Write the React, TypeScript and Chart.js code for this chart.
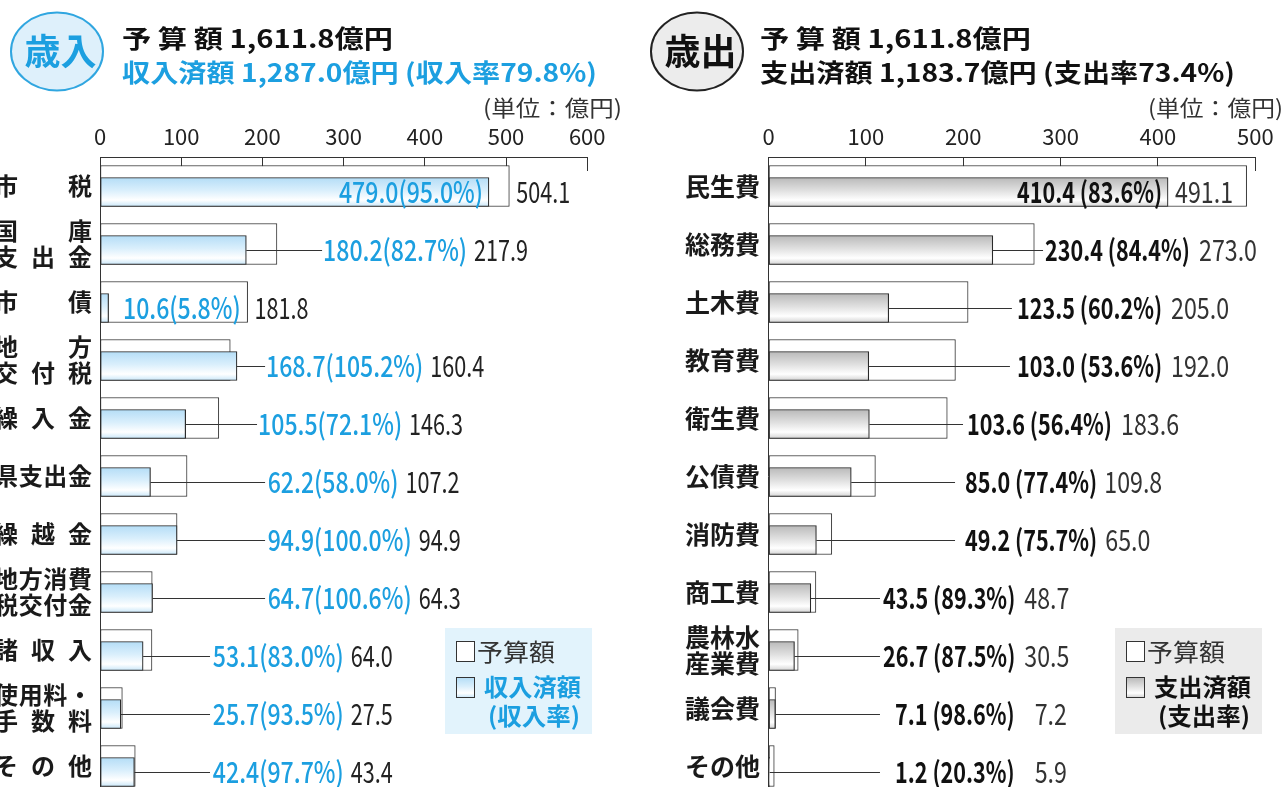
import React, { useEffect, useRef } from "react";
import { Chart, registerables } from "chart.js";

Chart.register(...registerables);

const FONT = "'Noto Sans CJK JP', 'Noto Sans', sans-serif";
Chart.defaults.font.family = FONT;

// ---------- 歳入 (revenue) ----------
const revenueCategories: string[][] = [
  ["市税"], ["国庫", "支出金"], ["市債"], ["地方", "交付税"], ["繰入金"], ["県支出金"],
  ["繰越金"], ["地方消費", "税交付金"], ["諸収入"], ["使用料・", "手数料"], ["その他"],
];
const revenueBudget = [504.1, 217.9, 181.8, 160.4, 146.3, 107.2, 94.9, 64.3, 64.0, 27.5, 43.4];
const revenueActual = [479.0, 180.2, 10.6, 168.7, 105.5, 62.2, 94.9, 64.7, 53.1, 25.7, 42.4];
const revenueRate = [95.0, 82.7, 5.8, 105.2, 72.1, 58.0, 100.0, 100.6, 83.0, 93.5, 97.7];
const revenueTicks = [0, 100, 200, 300, 400, 500, 600];
const revenueTitle = ["予 算 額 1,611.8億円", "収入済額 1,287.0億円 (収入率79.8%)"];
const revenueLegend = ["予算額", "収入済額", "(収入率)"];

// ---------- 歳出 (expenditure) ----------
const expenditureCategories: string[][] = [
  ["民生費"], ["総務費"], ["土木費"], ["教育費"], ["衛生費"], ["公債費"],
  ["消防費"], ["商工費"], ["農林水", "産業費"], ["議会費"], ["その他"],
];
const expenditureBudget = [491.1, 273.0, 205.0, 192.0, 183.6, 109.8, 65.0, 48.7, 30.5, 7.2, 5.9];
const expenditureActual = [410.4, 230.4, 123.5, 103.0, 103.6, 85.0, 49.2, 43.5, 26.7, 7.1, 1.2];
const expenditureRate = [83.6, 84.4, 60.2, 53.6, 56.4, 77.4, 75.7, 89.3, 87.5, 98.6, 20.3];
const expenditureTicks = [0, 100, 200, 300, 400, 500];
const expenditureTitle = ["予 算 額 1,611.8億円", "支出済額 1,183.7億円 (支出率73.4%)"];
const expenditureLegend = ["予算額", "支出済額", "(支出率)"];

const unitLabel = "(単位：億円)";

// ---------- label layout (axis units; null = inside bar / no leader) ----------
const revenueLeaderEnd = [null, 273.5, null, 203.3, 193.4, 203.3, 203.3, 203.3, 135.5, 135.5, 135.5];
const revenueLabelAt = [null, 274.7, 28.3, 204.5, 194.7, 206.5, 206.5, 206.5, 139, 139, 139];
const revenueBudgetGap = [7, 7, 7, 7, 7, 7, 7, 7, 7, 7, 7];
const expenditureLeaderEnd = [null, 282, 250, 248, 199.8, 191.6, 191.6, 114.5, 114.5, 114.5, 114.5];
const expenditureLabelAt = [null, 284, 255.3, 255.3, 203.9, 201.8, 201.8, 117.6, 117.6, 130, 130];
const expenditureBudgetGap = [7, 9, 9, 9, 9, 7, 8, 9, 9, 20, 20];

// ---------- geometry / style ----------
const CANVAS_H = 800;
const TOP = 157;
const PITCH = 58;
const BUDGET_T = 41;
const ACTUAL_T = 29;
const SHIFT = (BUDGET_T - ACTUAL_T) / 2;
const BLUE = "#1c9fe0";

const BLUE_STOPS: [number, string][] = [[0, "#b4ddf6"], [0.45, "#daeffc"], [0.78, "#ffffff"], [1, "#c9e7f9"]];
const GRAY_STOPS: [number, string][] = [[0, "#b9b9b9"], [0.45, "#e0e0e0"], [0.78, "#ffffff"], [1, "#d3d3d3"]];

type Panel = {
  side: "left" | "right";
  categories: string[][];
  budget: number[];
  actual: number[];
  rate: number[];
  ticks: number[];
  leaderEnd: (number | null)[];
  labelAt: (number | null)[];
  budgetGap: number[];
  title: string[];
  legend: string[];
  width: number;
  plotLeft: number;
  plotRight: number;
};

const revenuePanel: Panel = {
  side: "left",
  categories: revenueCategories,
  budget: revenueBudget,
  actual: revenueActual,
  rate: revenueRate,
  ticks: revenueTicks,
  leaderEnd: revenueLeaderEnd,
  labelAt: revenueLabelAt,
  budgetGap: revenueBudgetGap,
  title: revenueTitle,
  legend: revenueLegend,
  width: 640,
  plotLeft: 100,
  plotRight: 587.2,
};

const expenditurePanel: Panel = {
  side: "right",
  categories: expenditureCategories,
  budget: expenditureBudget,
  actual: expenditureActual,
  rate: expenditureRate,
  ticks: expenditureTicks,
  leaderEnd: expenditureLeaderEnd,
  labelAt: expenditureLabelAt,
  budgetGap: expenditureBudgetGap,
  title: expenditureTitle,
  legend: expenditureLegend,
  width: 647,
  plotLeft: 128.5,
  plotRight: 615.3,
};

function makeGradient(ctx: CanvasRenderingContext2D, y0: number, y1: number, stops: [number, string][]) {
  const g = ctx.createLinearGradient(0, y0, 0, y1);
  stops.forEach(([o, c]) => g.addColorStop(o, c));
  return g;
}

function measure(ctx: CanvasRenderingContext2D, s: string, font: string) {
  ctx.save();
  ctx.font = font;
  const w = ctx.measureText(s).width;
  ctx.restore();
  return w;
}

function drawText(
  ctx: CanvasRenderingContext2D, s: string, x: number, y: number, font: string, color: string,
  align: CanvasTextAlign = "left", sx = 1
) {
  ctx.save();
  ctx.font = font;
  ctx.fillStyle = color;
  ctx.textBaseline = "middle";
  ctx.textAlign = align;
  ctx.translate(x, y);
  ctx.scale(sx, 1);
  ctx.fillText(s, 0, 0);
  const w = ctx.measureText(s).width * sx;
  ctx.restore();
  return w;
}

function drawFit(ctx: CanvasRenderingContext2D, s: string, x: number, y: number, font: string, color: string, width: number) {
  const sx = width / measure(ctx, s, font);
  return drawText(ctx, s, x, y, font, color, "left", sx);
}

function drawJustified(ctx: CanvasRenderingContext2D, s: string, x0: number, x1: number, y: number) {
  const chars = Array.from(s);
  const widths = chars.map((c) => ctx.measureText(c).width);
  const total = widths.reduce((a, b) => a + b, 0);
  ctx.textAlign = "left";
  if (chars.length === 1) {
    ctx.fillText(s, x1 - total, y);
    return;
  }
  const gap = (x1 - x0 - total) / (chars.length - 1);
  let x = x0;
  chars.forEach((c, i) => {
    ctx.fillText(c, x, y);
    x += widths[i] + gap;
  });
}

function decorPlugin(p: Panel) {
  const isLeft = p.side === "left";
  const stops = isLeft ? BLUE_STOPS : GRAY_STOPS;
  return {
    id: "decor",
    afterDatasetsUpdate(chart: any) {
      chart.getDatasetMeta(0).data.forEach((el: any) => {
        el.y += SHIFT;
      });
    },
    afterDraw(chart: any) {
      const ctx: CanvasRenderingContext2D = chart.ctx;
      const xs = chart.scales.x;
      const ys = chart.scales.y;

      // category labels
      ctx.save();
      ctx.fillStyle = "#1a1a1a";
      ctx.textBaseline = "middle";
      p.categories.forEach((lines, i) => {
        const yc = ys.getPixelForValue(i);
        lines.forEach((line, k) => {
          const y = yc + (k - (lines.length - 1) / 2) * 26;
          if (isLeft) {
            ctx.font = `700 24px ${FONT}`;
            drawJustified(ctx, line, -6, 92, y);
          } else {
            ctx.font = `700 25px ${FONT}`;
            ctx.textAlign = "right";
            ctx.fillText(line, p.plotLeft - 8.5, y);
          }
        });
      });
      ctx.restore();

      // value labels
      const actFont = isLeft ? `500 29px ${FONT}` : `700 29px ${FONT}`;
      const budFont = `400 29px ${FONT}`;
      const actColor = isLeft ? BLUE : "#111";
      const budColor = isLeft ? "#222" : "#333";
      const actSx = isLeft ? 144 / measure(ctx, "180.2(82.7%)", actFont) : 145 / measure(ctx, "230.4 (84.4%)", actFont);
      const budSx = isLeft ? 54 / measure(ctx, "217.9", budFont) : 58 / measure(ctx, "273.0", budFont);
      p.actual.forEach((a, i) => {
        const yc = ys.getPixelForValue(i) + SHIFT;
        const xa = xs.getPixelForValue(a);
        const xb = xs.getPixelForValue(p.budget[i]);
        const label = isLeft ? `${a.toFixed(1)}(${p.rate[i].toFixed(1)}%)` : `${a.toFixed(1)} (${p.rate[i].toFixed(1)}%)`;
        let labelEnd: number;
        const at = p.labelAt[i];
        if (at == null) {
          drawText(ctx, label, xa - 6, yc, actFont, actColor, "right", actSx);
          labelEnd = isLeft ? xa - 6 : xa;
        } else {
          const le = p.leaderEnd[i];
          if (le != null) {
            ctx.save();
            ctx.strokeStyle = "#333";
            ctx.lineWidth = 1;
            ctx.beginPath();
            const ly = Math.round(yc) + 0.5;
            ctx.moveTo(xa, ly);
            ctx.lineTo(xs.getPixelForValue(le), ly);
            ctx.stroke();
            ctx.restore();
          }
          const lx = xs.getPixelForValue(at);
          const w = drawText(ctx, label, lx, yc, actFont, actColor, "left", actSx);
          labelEnd = lx + w;
        }
        const bxText = (isLeft ? Math.max(labelEnd, xb) : labelEnd) + p.budgetGap[i];
        drawText(ctx, p.budget[i].toFixed(1), bxText, yc, budFont, budColor, "left", budSx);
      });

      // title badge
      ctx.save();
      ctx.beginPath();
      ctx.ellipse(57, 51.5, 46, 39, 0, 0, Math.PI * 2);
      ctx.fillStyle = isLeft ? "#def0fb" : "#ececec";
      ctx.fill();
      ctx.lineWidth = 2;
      ctx.strokeStyle = isLeft ? "#30a6e0" : "#222";
      ctx.stroke();
      ctx.restore();
      drawText(ctx, isLeft ? "歳入" : "歳出", 60.5, 51, `700 36px ${FONT}`, isLeft ? BLUE : "#111", "center");

      const tx = isLeft ? 122 : 120;
      drawFit(ctx, p.title[0], tx, 38, `700 25px ${FONT}`, "#111", 271);
      drawFit(ctx, p.title[1], tx, 72, `700 25px ${FONT}`, isLeft ? BLUE : "#111", 475);

      // unit label
      drawFit(ctx, unitLabel, isLeft ? 483 : 508, 108, `400 22px ${FONT}`, "#333", isLeft ? 139 : 135);

      // legend
      const bx = isLeft ? 445 : 475;
      ctx.save();
      ctx.fillStyle = isLeft ? "#e2f3fc" : "#ebebeb";
      ctx.fillRect(bx, 628, 147, 106);
      ctx.lineWidth = 1;
      ctx.strokeStyle = "#333";
      ctx.fillStyle = "#fff";
      ctx.fillRect(bx + 11.5, 641.5, 18, 20);
      ctx.strokeRect(bx + 11.5, 641.5, 18, 20);
      ctx.fillStyle = makeGradient(ctx, 677.5, 697.5, stops);
      ctx.fillRect(bx + 11.5, 677.5, 18, 20);
      ctx.strokeRect(bx + 11.5, 677.5, 18, 20);
      ctx.restore();
      drawFit(ctx, p.legend[0], bx + 32, 652, `400 24px ${FONT}`, "#333", 78);
      const lc = isLeft ? BLUE : "#111";
      drawFit(ctx, p.legend[1], bx + 39, 687, `700 24px ${FONT}`, lc, 97);
      drawFit(ctx, p.legend[2], bx + 43, 716, `700 24px ${FONT}`, lc, 92);
    },
  };
}

function makeChart(canvas: HTMLCanvasElement, p: Panel) {
  const n = p.categories.length;
  const bottom = TOP + PITCH * n;
  const stops = p.side === "left" ? BLUE_STOPS : GRAY_STOPS;
  const tickSize = 22;
  return new Chart(canvas, {
    type: "bar",
    data: {
      labels: p.categories.map((c) => c.join("")),
      datasets: [
        {
          label: "済額",
          data: p.actual,
          barThickness: ACTUAL_T,
          grouped: false,
          backgroundColor: (c: any) => {
            const ys = c.chart.scales && c.chart.scales.y;
            if (!ys || c.dataIndex == null) return "#dddddd";
            const cy = ys.getPixelForValue(c.dataIndex) + SHIFT;
            if (!isFinite(cy)) return "#dddddd";
            return makeGradient(c.chart.ctx, cy - ACTUAL_T / 2, cy + ACTUAL_T / 2, stops);
          },
          borderColor: "#2a2a2a",
          borderWidth: 1.2,
          borderSkipped: false,
        } as any,
        {
          label: "予算額",
          data: p.budget,
          barThickness: BUDGET_T,
          grouped: false,
          backgroundColor: "#ffffff",
          borderColor: "#333333",
          borderWidth: 1,
          borderSkipped: false,
        } as any,
      ],
    },
    options: {
      indexAxis: "y",
      responsive: false,
      maintainAspectRatio: false,
      animation: false,
      events: [],
      layout: { padding: { left: 0, top: 0, right: p.width - p.plotRight, bottom: CANVAS_H - bottom } },
      plugins: { legend: { display: false }, tooltip: { enabled: false } },
      scales: {
        x: {
          position: "top",
          min: p.ticks[0],
          max: p.ticks[p.ticks.length - 1],
          afterBuildTicks: (s: any) => {
            s.ticks = p.ticks.map((v) => ({ value: v }));
          },
          afterFit: (s: any) => {
            s.height = TOP;
            s.paddingLeft = 0;
            s.paddingRight = 0;
          },
          ticks: {
            autoSkip: false,
            maxRotation: 0,
            color: "#222",
            font: { size: tickSize, family: FONT },
            padding: 34 - 0.6 * tickSize,
          },
          grid: { drawOnChartArea: false, drawTicks: true, tickLength: -14, color: "#333", lineWidth: 1 },
          border: { display: true, color: "#333", width: 1 },
        } as any,
        y: {
          ticks: { display: false },
          grid: { display: false, drawTicks: false },
          border: { display: true, color: "#333", width: 1 },
          afterFit: (s: any) => {
            s.width = p.plotLeft;
          },
        } as any,
      },
    } as any,
    plugins: [decorPlugin(p)],
  });
}

function PanelChart({ panel, left }: { panel: Panel; left: number }) {
  const ref = useRef<HTMLCanvasElement>(null);
  useEffect(() => {
    const chart = makeChart(ref.current as HTMLCanvasElement, panel);
    return () => chart.destroy();
  }, [panel]);
  return (
    <canvas
      ref={ref}
      width={panel.width}
      height={CANVAS_H}
      style={{ position: "absolute", left, top: 0, width: panel.width, height: CANVAS_H, display: "block" }}
    />
  );
}

export default function App() {
  return (
    <div
      style={{
        position: "fixed",
        left: 0,
        top: 0,
        width: 1287,
        height: 787,
        overflow: "hidden",
        background: "#ffffff",
      }}
    >
      <PanelChart panel={revenuePanel} left={0} />
      <PanelChart panel={expenditurePanel} left={640} />
    </div>
  );
}
